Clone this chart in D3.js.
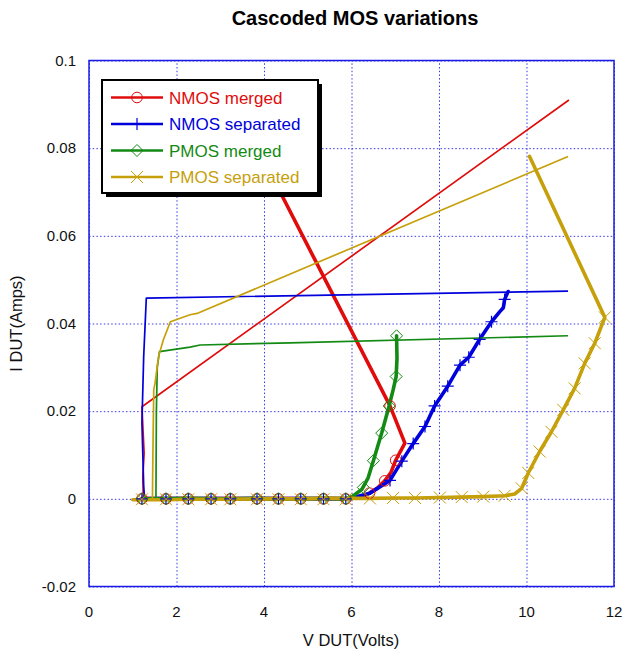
<!DOCTYPE html>
<html lang="en">
<head>
<meta charset="UTF-8">
<title>Cascoded MOS variations</title>
<script src="https://cdn.jsdelivr.net/npm/d3@7/dist/d3.min.js"></script>
<style>
    body { margin: 0; background: #fff; }
    text { font-family: "Liberation Sans", Arial, sans-serif; }
    .grid line { stroke: #3a3ae8; stroke-width: 1; stroke-dasharray: 1.5 2.2; }
    .grid path { display: none; }
    .tick-label { font-size: 15px; fill: #111; }
</style>
</head>
<body>
<svg id="chart" width="624" height="659"></svg>
<script>
    // tick values
    const xTicks = [0, 2, 4, 6, 8, 10, 12];
    const yTicks = [-0.02, 0, 0.02, 0.04, 0.06, 0.08, 0.1];

    const seriesNames = ["NMOS merged", "NMOS separated", "PMOS merged", "PMOS separated"];

    // common sweep positions along the bottom (V)
    const flatV = [1.21, 1.76, 2.27, 2.79, 3.23, 3.84, 4.33, 4.84, 5.36, 5.87];

    // NMOS merged
    const nmosMergedThick = [[1.21, 0.0001], [1.76, 0], [2.27, 0.0001], [2.79, 0], [3.23, 0.0001], [3.84, 0], [4.33, 0.0001],
        [4.84, 0], [5.36, 0.0001], [5.87, 0], [6.1, 0.0002], [6.27, 0.0006], [6.41, 0.0013], [6.6, 0.0025], [6.76, 0.0041],
        [6.9, 0.006], [7.01, 0.0088], [7.22, 0.0127], [6.88, 0.0212], [3.7, 0.083]];
    const nmosMergedThin = [[1.24, 0.0005], [1.23, 0.0051], [1.26, 0.0104], [1.21, 0.021], [10.97, 0.091]];
    const nmosMergedMarks = [[6.41, 0.0013], [6.76, 0.0041], [7.01, 0.0088], [6.88, 0.0212]];

    // NMOS separated
    const nmosSepThick = [[1.21, 0], [1.76, 0.0001], [2.27, 0], [2.79, 0.0001], [3.23, 0], [3.84, 0.0001], [4.33, 0],
        [4.84, 0.0001], [5.36, 0], [5.87, 0.0001], [6.0, 0.0002], [6.42, 0.0013], [6.88, 0.0042], [7.15, 0.0086],
        [7.41, 0.0126], [7.68, 0.0165], [7.9, 0.0212], [8.2, 0.0257], [8.48, 0.0305], [8.68, 0.0323], [8.93, 0.0364],
        [9.2, 0.0404], [9.39, 0.0427], [9.47, 0.0436], [9.5, 0.0455], [9.58, 0.0473]];
    const nmosSepThin = [[1.27, 0], [1.25, 0.003], [1.21, 0.0173], [1.25, 0.0325], [1.31, 0.0458], [10.95, 0.0474]];
    const nmosSepMarks = [[6.88, 0.0042], [7.15, 0.0086], [7.41, 0.0126], [7.68, 0.0165], [7.9, 0.0212], [8.2, 0.0257],
        [8.48, 0.0305], [8.68, 0.0323], [8.93, 0.0364], [9.2, 0.0404], [9.5, 0.0455]];

    // PMOS merged
    const pmosMergedThick = [[1.21, 0], [1.76, 0], [2.27, 0.0001], [2.79, 0], [3.23, 0], [3.84, 0.0001], [4.33, 0],
        [4.84, 0], [5.36, 0.0001], [5.87, 0], [6.0, 0.0004], [6.24, 0.0022], [6.38, 0.0048], [6.5, 0.0087],
        [6.69, 0.015], [6.86, 0.0212], [6.95, 0.0248], [7.02, 0.0279], [7.04, 0.032], [7.03, 0.0372]];
    const pmosMergedThin = [[1.53, 0], [1.54, 0.02], [1.56, 0.03], [1.61, 0.0336], [2.31, 0.0346], [2.54, 0.0351],
        [4.6, 0.0356], [10.95, 0.0372]];
    const pmosMergedMarks = [[6.27, 0.0026], [6.5, 0.0087], [6.69, 0.015], [6.86, 0.0212], [7.02, 0.0279], [7.03, 0.0372]];

    // PMOS separated
    const pmosSepThick = [[1.0, -0.0002], [1.21, -0.0002], [1.76, -0.0002], [2.27, -0.0001], [2.79, -0.0001], [3.23, -0.0001],
        [3.84, 0], [4.33, 0], [4.84, 0], [5.36, 0.0001], [5.87, 0.0001], [6.42, 0.0001], [6.95, 0.0002], [7.45, 0.0002],
        [8.02, 0.0003], [8.52, 0.0004], [9.01, 0.0005], [9.5, 0.0007], [9.73, 0.0011], [9.89, 0.0024], [10.04, 0.0059],
        [10.3, 0.0108], [10.57, 0.0153], [10.84, 0.0203], [11.1, 0.0252], [11.33, 0.0309], [11.56, 0.0355],
        [11.79, 0.0414], [10.07, 0.0781]];
    const pmosSepThin = [[1.45, 0], [1.46, 0.01], [1.48, 0.0249], [1.51, 0.0264], [1.59, 0.0325], [1.7, 0.0363],
        [1.86, 0.0404], [2.31, 0.042], [2.47, 0.0423], [10.95, 0.0781]];
    const pmosSepMarks = [[6.42, 0.0001], [6.95, 0.0002], [7.45, 0.0002], [8.02, 0.0003], [8.52, 0.0004], [9.01, 0.0005],
        [9.5, 0.0007], [9.89, 0.0024], [10.04, 0.0059], [10.3, 0.0108], [10.57, 0.0153], [10.84, 0.0203],
        [11.1, 0.0252], [11.33, 0.0309], [11.56, 0.0355], [11.79, 0.0414]];

    const colors = ["#e00c0c", "#0000dc", "#138a13", "#c6a00a"];
    const shapes = ["circle", "plus", "diamond", "cross"];

    const series = [
        { thick: nmosMergedThick, thin: nmosMergedThin, marks: flatV.map(v => [v, 0]).concat(nmosMergedMarks) },
        { thick: nmosSepThick, thin: nmosSepThin, marks: flatV.map(v => [v, 0]).concat(nmosSepMarks) },
        { thick: pmosMergedThick, thin: pmosMergedThin, marks: flatV.map(v => [v, 0]).concat(pmosMergedMarks) },
        { thick: pmosSepThick, thin: pmosSepThin, marks: flatV.map(v => [v, -0.0001]).concat(pmosSepMarks) }
    ];

    const svg = d3.select("#chart");
    const plotLeft = 89, plotRight = 614, plotTop = 60.5, plotBottom = 586.5;

    const x = d3.scaleLinear().domain([0, 12]).range([plotLeft, plotRight]);
    const y = d3.scaleLinear().domain([-0.02, 0.1]).range([plotBottom, plotTop]);

    // grid
    svg.append("g").attr("class", "grid")
        .attr("transform", `translate(0,${plotBottom})`)
        .call(d3.axisBottom(x).tickValues(xTicks).tickSize(-(plotBottom - plotTop)).tickFormat(""));
    svg.append("g").attr("class", "grid")
        .attr("transform", `translate(${plotLeft},0)`)
        .call(d3.axisLeft(y).tickValues(yTicks).tickSize(-(plotRight - plotLeft)).tickFormat(""));

    // tick labels
    svg.append("g").selectAll("text").data(xTicks).enter().append("text")
        .attr("class", "tick-label")
        .attr("x", d => x(d)).attr("y", plotBottom + 30)
        .attr("text-anchor", "middle")
        .text(d => d);
    svg.append("g").selectAll("text").data(yTicks).enter().append("text")
        .attr("class", "tick-label")
        .attr("x", plotLeft - 13).attr("y", d => y(d) + 5)
        .attr("text-anchor", "end")
        .text(d => String(d));

    const line = d3.line().x(d => x(d[0])).y(d => y(d[1]));

    const plot = svg.append("g");

    series.forEach((s, i) => {
        plot.append("path").datum(s.thick)
            .attr("d", line).attr("fill", "none")
            .attr("stroke", colors[i]).attr("stroke-width", 3.6)
            .attr("stroke-linejoin", "round").attr("stroke-linecap", "round");
        plot.append("path").datum(s.thin)
            .attr("d", line).attr("fill", "none")
            .attr("stroke", colors[i]).attr("stroke-width", 1.7)
            .attr("stroke-linejoin", "round");
    });

    function drawMarker(g, shape, color, cx, cy) {
        if (shape === "circle") {
            g.append("circle").attr("cx", cx).attr("cy", cy).attr("r", 5.3)
                .attr("fill", "none").attr("stroke", color).attr("stroke-width", 1);
        } else if (shape === "plus") {
            g.append("path").attr("d", `M${cx - 6},${cy}H${cx + 6}M${cx},${cy - 6}V${cy + 6}`)
                .attr("stroke", color).attr("stroke-width", 1.2);
        } else if (shape === "diamond") {
            g.append("path").attr("d", `M${cx},${cy - 6}L${cx + 6},${cy}L${cx},${cy + 6}L${cx - 6},${cy}Z`)
                .attr("fill", "none").attr("stroke", color).attr("stroke-width", 1);
        } else {
            g.append("path").attr("d", `M${cx - 6},${cy - 6}L${cx + 6},${cy + 6}M${cx - 6},${cy + 6}L${cx + 6},${cy - 6}`)
                .attr("stroke", color).attr("stroke-width", 1);
        }
    }

    series.forEach((s, i) => {
        const g = plot.append("g");
        s.marks.forEach(p => drawMarker(g, shapes[i], colors[i], x(p[0]), y(p[1])));
    });

    // frame
    svg.append("rect")
        .attr("x", plotLeft).attr("y", plotTop)
        .attr("width", plotRight - plotLeft).attr("height", plotBottom - plotTop)
        .attr("fill", "none").attr("stroke", "#1a1ae6").attr("stroke-width", 1.5);

    // titles
    svg.append("text").attr("x", 355).attr("y", 25)
        .attr("text-anchor", "middle").attr("font-size", 20).attr("font-weight", "bold")
        .text("Cascoded MOS variations");
    svg.append("text").attr("x", 351).attr("y", 646)
        .attr("text-anchor", "middle").attr("font-size", 16.5).attr("fill", "#111")
        .text("V DUT(Volts)");
    svg.append("text").attr("transform", `translate(22,${(plotTop + plotBottom) / 2}) rotate(-90)`)
        .attr("text-anchor", "middle").attr("font-size", 16.5).attr("fill", "#111")
        .text("I DUT(Amps)");

    // legend
    const lg = svg.append("g").attr("transform", "translate(102,80)");
    lg.append("rect").attr("x", 4).attr("y", 4).attr("width", 216).attr("height", 113).attr("fill", "#000");
    lg.append("rect").attr("x", 0).attr("y", 0).attr("width", 216).attr("height", 113)
        .attr("fill", "#fff").attr("stroke", "#000").attr("stroke-width", 2);
    seriesNames.forEach((name, i) => {
        const cy = 17.5 + i * 26.5;
        lg.append("line").attr("x1", 9).attr("x2", 61).attr("y1", cy).attr("y2", cy)
            .attr("stroke", colors[i]).attr("stroke-width", 2.6);
        drawMarker(lg, shapes[i], colors[i], 35, cy);
        lg.append("text").attr("x", 67).attr("y", cy + 6)
            .attr("font-size", 17).attr("fill", colors[i])
            .text(name);
    });
</script>
</body>
</html>
